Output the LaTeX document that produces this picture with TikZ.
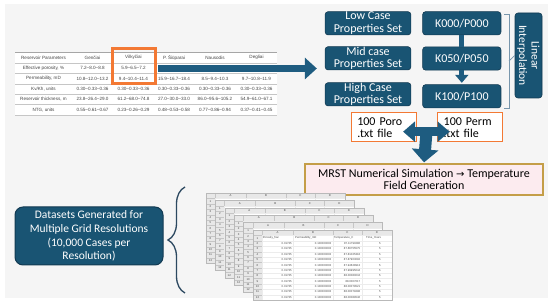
\documentclass[tikz,border=0pt]{standalone}
\usepackage{fontspec}
\setmainfont{Carlito}
\newfontfamily\tabfont{Liberation Sans}
\newfontfamily\symfont{DejaVu Sans}
\usetikzlibrary{positioning,arrows.meta,decorations.pathreplacing,calc}

\definecolor{boxblue}{RGB}{25,84,115}
\definecolor{boxedge}{RGB}{18,58,82}
\definecolor{arrowblue}{RGB}{30,92,128}
\definecolor{hlorange}{RGB}{243,121,52}
\definecolor{simgold}{RGB}{196,158,72}
\definecolor{simpink}{RGB}{252,235,239}
\definecolor{panel}{RGB}{245,245,245}
\definecolor{bracecol}{RGB}{44,72,96}
\definecolor{brkcol}{RGB}{120,150,172}
\definecolor{tabtext}{RGB}{70,70,70}

\begin{document}
\begin{tikzpicture}[
    x=1pt, y=-1pt,
    prop/.style={draw=boxedge, fill=boxblue, rounded corners=3pt, text=white,
                 minimum width=85.7pt, minimum height=23.3pt, inner sep=0pt,
                 align=center, font=\fontsize{12}{12.5}\selectfont, line width=0.6pt},
    kbox/.style={prop, minimum width=78.3pt},
    txtfile/.style={draw=hlorange, fill=white, line width=1pt, text width=53pt,
                    minimum height=29pt, inner xsep=6pt, inner ysep=0pt,
                    align=left, font=\fontsize{12}{12.5}\selectfont},
    sim/.style={draw=simgold, fill=simpink, line width=1.2pt, minimum width=238pt,
                minimum height=31pt, inner sep=0pt, align=center,
                font=\fontsize{12}{12.5}\selectfont},
    data/.style={draw=boxedge, fill=boxblue, rounded corners=8pt, text=white,
                 minimum width=148pt, minimum height=58pt, inner sep=0pt,
                 align=center, font=\fontsize{11.5}{13.7}\selectfont, line width=1pt},
    cell/.style={inner sep=0pt, text=tabtext, font=\fontsize{4.6}{5}\tabfont},
    xcell/.style={inner sep=0pt, text=tabtext, font=\fontsize{2.8}{3}\tabfont},
    hl/.style={draw=hlorange, line width=2.7pt, minimum width=43pt,
               minimum height=35pt, inner sep=0pt},
    flow/.style={draw=arrowblue, line width=5pt},
    kflow/.style={flow, -{Triangle[length=8pt,width=13pt]}, shorten >=1.5pt},
    bigflow/.style={draw=arrowblue, line width=7pt, -{Triangle[length=12pt,width=21pt]}},
    tflow/.style={draw=arrowblue, line width=9pt},
    brk/.style={draw=brkcol, line width=0.8pt},
    brc/.style={draw=bracecol, line width=1.3pt, decorate,
                decoration={brace, amplitude=17pt}},
    sheethead/.style={fill=gray!18},
    sheetgrid/.style={draw=gray!45, line width=0.2pt},
    sheetfaint/.style={draw=gray!15, line width=0.2pt},
    sheetedge/.style={draw=gray!55, line width=0.3pt}
]
\useasboundingbox (0,0) rectangle (550,304);
\fill[white] (0,0) rectangle (550,304);
\fill[panel] (5,4) rectangle (548,298);

% Parameter table
\fill[white] (15,52) rectangle (277,115);
\draw[gray!70, line width=0.8pt] (15,52) -- (277,52);
\foreach \yy in {63,73.4,83.8,94.2,104.6,115}
  \draw[gray!45, line width=0.4pt] (15,\yy) -- (277,\yy);

\foreach \cx/\txt [count=\c] in {43.5/{Reservoir Parameters}, 92.5/{Genčiai},
    133.5/{Vilkyčiai}, 174/{P. Šiūparai}, 215/{Nausodis}, 256.5/{Degliai}}
  \node[cell] (r0c\c) at (\cx,57.5) {\txt};
\foreach \cx/\txt [count=\c] in {43.5/{Effective porosity, \%}, 92.5/{7.2–8.0–8.8},
    133.5/{5.9–6.5–7.2}}
  \node[cell] (r1c\c) at (\cx,68.2) {\txt};
\foreach \cx/\txt [count=\c] in {43.5/{Permeability, mD}, 92.5/{10.8–12.0–13.2},
    133.5/{9.4–10.4–11.4}, 174/{15.9–16.7–18.4}, 215/{8.5–9.4–10.3}, 256.5/{9.7–10.8–11.9}}
  \node[cell] (r2c\c) at (\cx,78.6) {\txt};
\foreach \cx/\txt [count=\c] in {43.5/{Kv/Kh, units}, 92.5/{0.30–0.33–0.36},
    133.5/{0.30–0.33–0.36}, 174/{0.30–0.33–0.36}, 215/{0.30–0.33–0.36}, 256.5/{0.30–0.33–0.36}}
  \node[cell] (r3c\c) at (\cx,89) {\txt};
\foreach \cx/\txt [count=\c] in {43.5/{Reservoir thickness, m}, 92.5/{23.8–26.4–29.0},
    133.5/{61.2–68.0–74.8}, 174/{27.0–30.0–33.0}, 215/{86.0–95.6–105.2}, 256.5/{54.9–61.0–67.1}}
  \node[cell] (r4c\c) at (\cx,99.4) {\txt};
\foreach \cx/\txt [count=\c] in {43.5/{NTG, units}, 92.5/{0.55–0.61–0.67},
    133.5/{0.23–0.26–0.29}, 174/{0.48–0.53–0.58}, 215/{0.77–0.86–0.94}, 256.5/{0.37–0.41–0.45}}
  \node[cell] (r5c\c) at (\cx,109.8) {\txt};

% Property sets and interpolation
\node[prop] (low) at (368,23.3) {Low Case\\Properties Set};
\node[prop] (mid) at (368,58.3) {Mid case\\Properties Set};
\node[prop] (high) at (368,94.3) {High Case\\Properties Set};
\node[kbox] (k000) at (461.8,23.3) {K000/P000};
\node[kbox] (k050) at (461.8,58.5) {K050/P050};
\node[kbox] (k100) at (461.8,96.3) {K100/P100};
\node[prop, rotate=-90, minimum width=85pt, minimum height=27pt,
      font=\fontsize{11.5}{12.5}\selectfont] (linear) at (528.5,55.5) {Linear\\Interpolation};

\draw[flow] (k000) -- (k050);
\draw[kflow] (k050) -- (k100);
\draw[brk] (504,14) -- (509,14) -- (509,108) -- (504,108);
\draw[brk] (509,61) -- (linear.south);

% Table to property sets
\node[hl] (hl) at (134.2,65.8) {};
\coordinate (r1) at (0,68.5);
\draw[bigflow, shorten <=1.35pt, shorten >=8pt] (hl.east |- r1) -- (r1 -| mid.west);

% Text files and simulation
\node[txtfile] (poro) at (383.8,127.5) {100 Poro\\.txt file};
\node[txtfile] (perm) at (470.2,127.5) {100 Perm\\.txt file};
\node[sim] (sim) at (424,179.5)
  {MRST Numerical Simulation {\symfont\fontsize{10}{12}\selectfont →} Temperature\\Field Generation};

\coordinate (tj) at (426.5,131.7);
\draw[tflow, {Triangle[length=12pt,width=20pt]}-{Triangle[length=12pt,width=20pt]},
      shorten <=-13.7pt, shorten >=-12.3pt] (tj -| poro.east) -- (tj -| perm.west);
\draw[tflow, line width=12pt, -{Triangle[length=13pt,width=26pt]}, shorten >=1pt]
  (tj) -- (sim.north);

% Datasets
\node[data] (datasets) at (89,236) {Datasets Generated for\\Multiple Grid Resolutions\\(10,000 Cases per\\Resolution)};
\coordinate (bt) at (185,187);
\coordinate (bb) at (185,293);
\draw[brc] (bb) -- (bt);

% Stacked spreadsheets
\foreach \k in {0,...,5}{
  \begin{scope}[shift={({206+9.4*\k},{193+7.4*\k})}]
    \fill[white] (0,0) rectangle (139,70);
    \fill[sheethead] (0,0) rectangle (139,5.5);
    \fill[sheethead] (0,5.5) rectangle (9,70);
    \foreach \gx in {9,40,80,109} {
      \draw[sheetgrid] (\gx,0) -- (\gx,5.5);
      \draw[sheetfaint] (\gx,5.5) -- (\gx,70);
    }
    \foreach \r in {0,...,12} {
      \draw[sheetgrid] (0,{5.5+5.375*\r}) -- (9,{5.5+5.375*\r});
      \draw[sheetfaint] (9,{5.5+5.375*\r}) -- (139,{5.5+5.375*\r});
    }
    \draw[sheetedge] (0,0) rectangle (139,70);
    \foreach \cx/\lt in {24.5/A,60/B,94.5/C,124/D}
      \node[xcell] (s\k-\lt) at (\cx,2.75) {\lt};
    \foreach \r in {1,...,12}
      \node[xcell] (s\k-r\r) at (4.5,{5.5+5.375*(\r-0.5)}) {\r};
  \end{scope}
}
\begin{scope}[shift={(253,230)}]
  \node[xcell, anchor=west] (hpor) at (9.6,8.2) {Porosity\_frac};
  \node[xcell, anchor=west] (hperm) at (42,8.2) {Permeability\_mD};
  \node[xcell, anchor=west] (htemp) at (81,8.2) {Temperature\_C};
  \node[xcell, anchor=west] (htime) at (113,8.2) {Time\_Years};
  \foreach \tv [count=\r from 2] in {87.11790286, 87.66755575, 87.81025318, 87.87903092,
      87.94628913, 87.99995044, 88.00080034, 88.0007017, 88.00079521, 88.00079298, 88.00089546}{
    \node[xcell, anchor=east] (por\r) at (39,{5.5+5.375*(\r-0.5)}) {0.01735};
    \node[xcell, anchor=east] (perm\r) at (78.5,{5.5+5.375*(\r-0.5)}) {0.100000003};
    \node[xcell, anchor=east] (temp\r) at (107.5,{5.5+5.375*(\r-0.5)}) {\tv};
    \node[xcell, anchor=east] (time\r) at (128,{5.5+5.375*(\r-0.5)}) {5};
  }
\end{scope}

\end{tikzpicture}
\end{document}
